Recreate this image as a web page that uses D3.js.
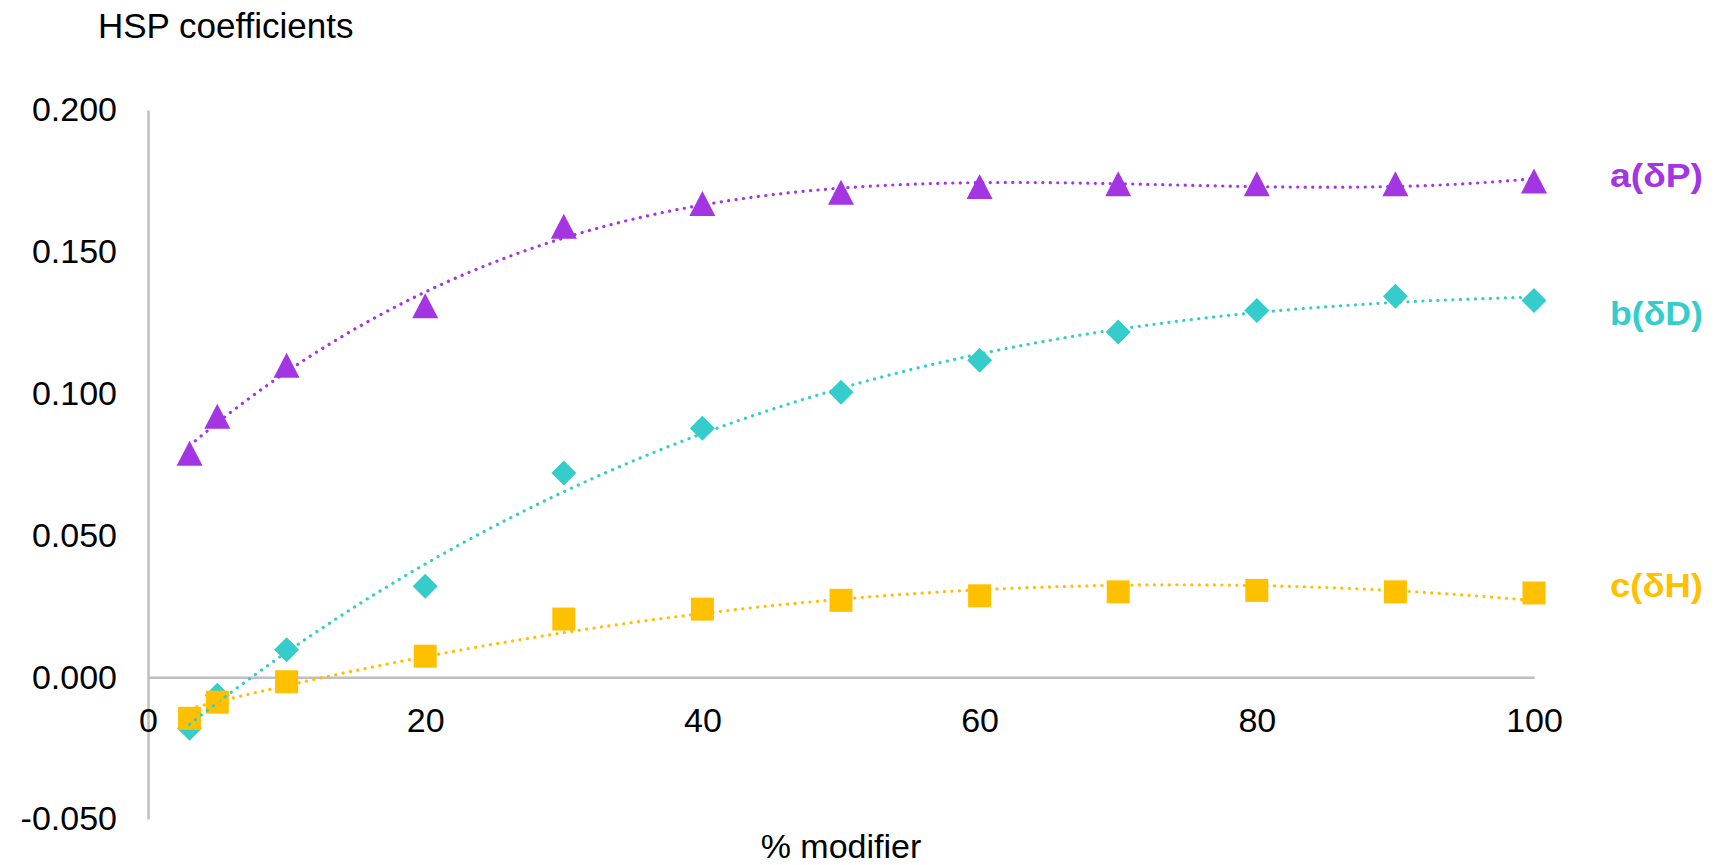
<!DOCTYPE html>
<html>
<head>
<meta charset="utf-8">
<script src="https://cdn.jsdelivr.net/npm/d3@7"></script>
<style>
  html, body { margin: 0; padding: 0; background: #fff; }
  svg { display: block; font-family: "Liberation Sans", Arial, sans-serif; }
</style>
</head>
<body>
<svg id="chart" width="1717" height="865"></svg>
<script>
// ---- data ----
const modifier = [3, 5, 10, 20, 30, 40, 50, 60, 70, 80, 90, 100];
const aDeltaP = [0.079, 0.092, 0.110, 0.131, 0.159, 0.167, 0.171, 0.173, 0.174, 0.174, 0.174, 0.175];
const bDeltaD = [-0.018, -0.0064, 0.0097, 0.0321, 0.0720, 0.0878, 0.1005, 0.1118, 0.1217, 0.1293, 0.1343, 0.1328];
const cDeltaH = [-0.0145, -0.0088, -0.0016, 0.0074, 0.0205, 0.0240, 0.0271, 0.0287, 0.0301, 0.0306, 0.0301, 0.0297];
const seriesNames = ["a(δP)", "b(δD)", "c(δH)"];
const trendOrders = [3, 3, 2];
const yTicks = [-0.05, 0, 0.05, 0.10, 0.15, 0.20];
const xTicks = [0, 20, 40, 60, 80, 100];

// ---- marker shapes (centred on their bounding box) ----
const triangleSym = { draw(ctx, size) { const w = Math.sqrt(size), h = w * 0.96;
  ctx.moveTo(0, -h / 2); ctx.lineTo(w / 2, h / 2); ctx.lineTo(-w / 2, h / 2); ctx.closePath(); } };
const diamondSym = { draw(ctx, size) { const r = Math.sqrt(size) / 2;
  ctx.moveTo(0, -r); ctx.lineTo(r, 0); ctx.lineTo(0, r); ctx.lineTo(-r, 0); ctx.closePath(); } };
const squareSym = { draw(ctx, size) { const r = Math.sqrt(size) / 2;
  ctx.rect(-r, -r, 2 * r, 2 * r); } };

const series = [
  { name: seriesNames[0], values: aDeltaP, order: trendOrders[0], color: "#A335E3", symbol: triangleSym, size: 26 * 26, labelBase: 187 },
  { name: seriesNames[1], values: bDeltaD, order: trendOrders[1], color: "#35CCCC", symbol: diamondSym, size: 25 * 25, labelBase: 325 },
  { name: seriesNames[2], values: cDeltaH, order: trendOrders[2], color: "#FFC000", symbol: squareSym, size: 23 * 23, labelBase: 597 }
];

// ---- polynomial least-squares trendline (spreadsheet-style polynomial trendline) ----
function polyFit(xs, ys, order) {
  const n = order + 1;
  const A = Array.from({ length: n }, () => new Array(n + 1).fill(0));
  xs.forEach((xv, k) => {
    const x = xv / 100;
    for (let i = 0; i < n; i++) {
      for (let j = 0; j < n; j++) A[i][j] += Math.pow(x, i + j);
      A[i][n] += ys[k] * Math.pow(x, i);
    }
  });
  for (let i = 0; i < n; i++) {
    let p = i;
    for (let r = i + 1; r < n; r++) if (Math.abs(A[r][i]) > Math.abs(A[p][i])) p = r;
    [A[i], A[p]] = [A[p], A[i]];
    for (let r = 0; r < n; r++) {
      if (r === i) continue;
      const f = A[r][i] / A[i][i];
      for (let c = i; c <= n; c++) A[r][c] -= f * A[i][c];
    }
  }
  const coef = A.map((row, i) => row[n] / row[i]);
  return xv => coef.reduce((s, c, i) => s + c * Math.pow(xv / 100, i), 0);
}

// ---- layout ----
const svg = d3.select("#chart");
const x = d3.scaleLinear().domain([0, 100]).range([148, 1534]);
const y = d3.scaleLinear().domain([-0.05, 0.2]).range([819, 110]);
const axisColor = "#BFBFBF";
const fontSize = 34;

// y axis
const yAxis = svg.append("g")
  .attr("transform", `translate(${x(0)},0)`)
  .call(d3.axisLeft(y).tickValues(yTicks).tickSize(0).tickSizeOuter(0).tickPadding(31)
    .tickFormat(d => d.toFixed(3)));
yAxis.select(".domain").attr("stroke", axisColor).attr("stroke-width", 2.5);
yAxis.selectAll("text").attr("font-size", fontSize).attr("fill", "#000")
  .attr("font-family", "Liberation Sans, Arial, sans-serif");

// x axis at y = 0
const xAxis = svg.append("g")
  .attr("transform", `translate(0,${y(0)})`)
  .call(d3.axisBottom(x).tickValues(xTicks).tickSize(0).tickSizeOuter(0).tickPadding(31)
    .tickFormat(d3.format("d")));
xAxis.select(".domain").attr("stroke", axisColor).attr("stroke-width", 2.5);
xAxis.selectAll("text").attr("font-size", fontSize).attr("fill", "#000")
  .attr("font-family", "Liberation Sans, Arial, sans-serif");

// axis titles
svg.append("text").attr("x", 98).attr("y", 38).attr("font-size", 35).attr("fill", "#000")
  .text("HSP coefficients");
svg.append("text").attr("x", 841).attr("y", 858).attr("text-anchor", "middle")
  .attr("font-size", fontSize).attr("fill", "#000").text("% modifier");

// markers
series.forEach(s => {
  svg.append("g").selectAll("path")
    .data(modifier.map((m, i) => [m, s.values[i]]))
    .join("path")
    .attr("transform", d => `translate(${x(d[0])},${y(d[1])})`)
    .attr("d", d3.symbol().type(s.symbol).size(s.size))
    .attr("fill", s.color);
});

// trendlines (drawn over markers)
const line = d3.line().x(d => x(d[0])).y(d => y(d[1]));
series.forEach(s => {
  const f = polyFit(modifier, s.values, s.order);
  const pts = d3.range(modifier[0], modifier[modifier.length - 1] + 0.001, 0.5).map(m => [m, f(m)]);
  svg.append("path").datum(pts)
    .attr("d", line)
    .attr("fill", "none")
    .attr("stroke", s.color)
    .attr("stroke-width", 3.2)
    .attr("stroke-linecap", "round")
    .attr("stroke-dasharray", "0.1 7.4");
});

// series labels
series.forEach(s => {
  svg.append("text")
    .attr("x", 1703).attr("y", s.labelBase)
    .attr("text-anchor", "end")
    .attr("font-size", 34).attr("font-weight", "bold").attr("fill", s.color)
    .attr("textLength", 93).attr("lengthAdjust", "spacingAndGlyphs")
    .text(s.name);
});
</script>
</body>
</html>
